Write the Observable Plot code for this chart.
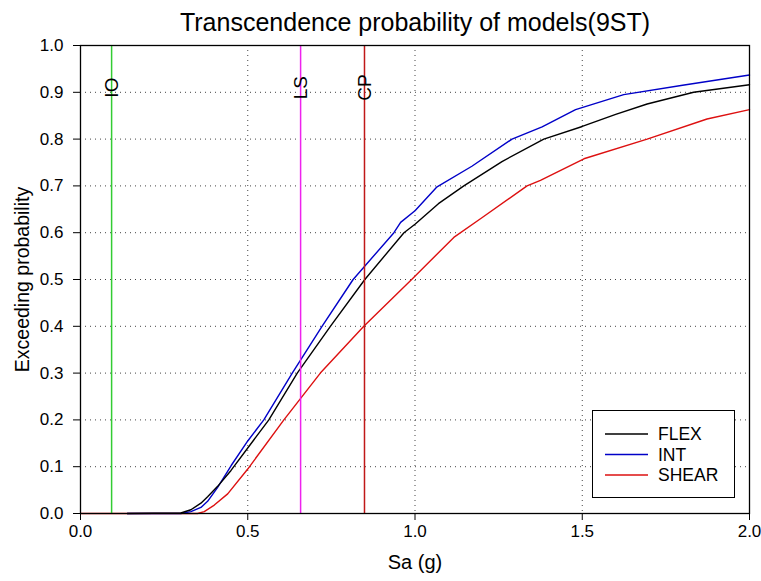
<!DOCTYPE html>
<html><head><meta charset="utf-8">
<script src="https://cdn.jsdelivr.net/npm/d3@7"></script>
<script src="https://cdn.jsdelivr.net/npm/@observablehq/plot@0.6"></script>
<style>
body{margin:0;background:#fff;}
#wrap{position:relative;width:761px;height:581px;overflow:hidden;}
#legend{position:absolute;left:592px;top:410px;width:143px;height:88px;border:1.3px solid #000;box-sizing:border-box;background:#fff;}
</style></head><body><div id="wrap"></div>
<script>
const titleText = "Transcendence probability of models(9ST)";
const xLabel = "Sa (g)";
const yLabel = "Exceeding probability";

const series = ["FLEX", "INT", "SHEAR"];
const seriesColors = ["#000000", "#0000c8", "#dd1010"];

const flexSa = [0.14, 0.30, 0.33, 0.36, 0.38, 0.41, 0.45, 0.50, 0.563, 0.648, 0.747, 0.850, 0.967, 1.00, 1.07, 1.146, 1.26, 1.385, 1.50, 1.60, 1.694, 1.833, 2.00];
const flexP  = [0.0, 0.001, 0.008, 0.022, 0.036, 0.058, 0.092, 0.140, 0.200, 0.300, 0.400, 0.500, 0.600, 0.618, 0.662, 0.700, 0.752, 0.800, 0.827, 0.853, 0.875, 0.900, 0.916];

const intSa = [0.14, 0.30, 0.33, 0.36, 0.38, 0.41, 0.45, 0.50, 0.548, 0.633, 0.722, 0.815, 0.937, 0.957, 1.00, 1.066, 1.17, 1.29, 1.38, 1.48, 1.624, 1.80, 2.00];
const intP  = [0.0, 0.0, 0.004, 0.013, 0.026, 0.056, 0.102, 0.155, 0.200, 0.300, 0.400, 0.500, 0.600, 0.622, 0.647, 0.698, 0.742, 0.800, 0.826, 0.863, 0.895, 0.915, 0.937];

const shearSa = [0.0, 0.35, 0.37, 0.40, 0.44, 0.50, 0.608, 0.717, 0.847, 0.990, 1.116, 1.20, 1.335, 1.375, 1.505, 1.694, 1.873, 2.00];
const shearP  = [0.0, 0.0, 0.004, 0.018, 0.042, 0.095, 0.200, 0.300, 0.400, 0.500, 0.590, 0.632, 0.700, 0.712, 0.758, 0.800, 0.843, 0.863];

const limitNames = ["IO", "LS", "CP"];
const limitSa = [0.093, 0.658, 0.849];
const limitColors = ["#33cc33", "#ee22ee", "#c01818"];

const xTicks = [0, 0.5, 1.0, 1.5, 2.0];
const yTicks = [0, 0.1, 0.2, 0.3, 0.4, 0.5, 0.6, 0.7, 0.8, 0.9, 1.0];

const font = "Liberation Sans, Arial, sans-serif";

const seriesData = [[flexSa, flexP], [intSa, intP], [shearSa, shearP]];
const rows = [];
// draw order: SHEAR, INT, FLEX
[2, 1, 0].forEach(i => {
  const [xs, ps] = seriesData[i];
  xs.forEach((s, j) => rows.push({series: series[i], sa: s, p: ps[j]}));
});
const limits = limitNames.map((n, i) => ({name: n, sa: limitSa[i]}));

const chart = Plot.plot({
  width: 761,
  height: 581,
  marginTop: 45,
  marginBottom: 68,
  marginLeft: 80,
  marginRight: 12,
  style: {fontFamily: font, fontSize: "17px", background: "#fff", color: "#000"},
  x: {domain: [0, 2], label: null},
  y: {domain: [0, 1], label: null},
  color: {domain: [...series, ...limitNames], range: [...seriesColors, ...limitColors]},
  marks: [
    Plot.gridX(xTicks.slice(1, -1), {stroke: "#444", strokeOpacity: 1, strokeDasharray: "1,4"}),
    Plot.gridY(yTicks.slice(1, -1), {stroke: "#444", strokeOpacity: 1, strokeDasharray: "1,4"}),
    Plot.line(rows, {x: "sa", y: "p", z: "series", stroke: "series", strokeWidth: 1.4}),
    Plot.ruleX(limits, {x: "sa", stroke: "name", strokeWidth: 1.5}),
    Plot.text(limits, {x: "sa", y: 0.91, text: "name", rotate: -90, fontSize: 19, fill: "#000"}),
    Plot.axisX(xTicks, {tickSize: 7, tickPadding: 4, fontSize: 17, tickFormat: d3.format(".1f"), label: null}),
    Plot.axisY(yTicks, {tickSize: 7, tickPadding: 10, fontSize: 17, tickFormat: d3.format(".1f"), label: null}),
    Plot.frame({stroke: "#000", strokeWidth: 1.3}),
    Plot.text([titleText], {frameAnchor: "top", dy: -32, fontSize: 25, fill: "#000"}),
    Plot.text([xLabel], {frameAnchor: "bottom", dy: 55, fontSize: 20, fill: "#000"}),
    Plot.text([yLabel], {frameAnchor: "left", dx: -58, dy: 0, rotate: -90, textAnchor: "middle", lineAnchor: "middle", fontSize: 19.5, fill: "#000"})
  ]
});

const wrap = document.getElementById("wrap");
wrap.appendChild(chart);

// legend
const legend = document.createElement("div");
legend.id = "legend";
const ns = "http://www.w3.org/2000/svg";
const lsvg = document.createElementNS(ns, "svg");
lsvg.setAttribute("width", 141);
lsvg.setAttribute("height", 86);
series.forEach((name, i) => {
  const cy = 23 + i * 20.5;
  const line = document.createElementNS(ns, "line");
  line.setAttribute("x1", 12); line.setAttribute("x2", 55);
  line.setAttribute("y1", cy); line.setAttribute("y2", cy);
  line.setAttribute("stroke", seriesColors[i]);
  line.setAttribute("stroke-width", 1.4);
  lsvg.appendChild(line);
  const t = document.createElementNS(ns, "text");
  t.setAttribute("x", 65); t.setAttribute("y", cy);
  t.setAttribute("dy", "0.35em");
  t.setAttribute("font-size", 17.5);
  t.setAttribute("font-family", font);
  t.textContent = name;
  lsvg.appendChild(t);
});
legend.appendChild(lsvg);
wrap.appendChild(legend);
</script>
</body></html>
